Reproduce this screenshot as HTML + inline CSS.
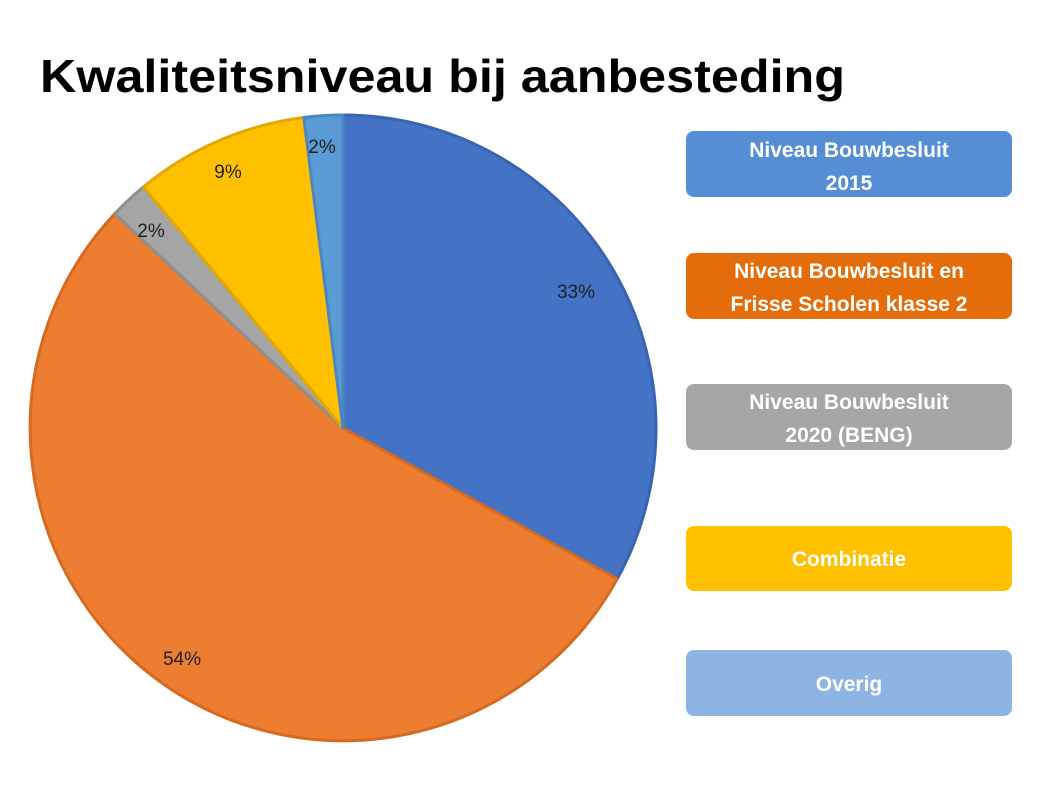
<!DOCTYPE html>
<html><head><meta charset="utf-8"><style>html,body{margin:0;padding:0;background:#fff;}svg{display:block}</style></head>
<body>
<svg width="1050" height="787" viewBox="0 0 1050 787" xmlns="http://www.w3.org/2000/svg" font-family="Liberation Sans, sans-serif">
<rect width="1050" height="787" fill="#fff"/>
<text x="40" y="92" font-size="46" font-weight="bold" fill="#000" textLength="805" lengthAdjust="spacingAndGlyphs">Kwaliteitsniveau bij aanbesteding</text>
<g stroke-width="3" stroke-linejoin="round">
<path d="M343,428 L343,115 A313,313 0 0 1 617.3,578.8 Z" fill="#4472C4" stroke="#3A64B0"/>
<path d="M343,428 L617.3,578.8 A313,313 0 1 1 114.8,213.7 Z" fill="#ED7D31" stroke="#D56A22"/>
<path d="M343,428 L114.8,213.7 A313,313 0 0 1 143.5,186.8 Z" fill="#A5A5A5" stroke="#8F8F8F"/>
<path d="M343,428 L143.5,186.8 A313,313 0 0 1 303.8,117.5 Z" fill="#FFC000" stroke="#E0A800"/>
<path d="M343,428 L303.8,117.5 A313,313 0 0 1 343,115 Z" fill="#5B9BD5" stroke="#4A87C0"/>
</g>
<g font-size="19" fill="#222" text-anchor="middle">
<text x="576" y="298">33%</text>
<text x="182" y="665">54%</text>
<text x="151" y="237">2%</text>
<text x="228" y="178">9%</text>
<text x="322" y="153">2%</text>
</g>
<g>
<rect x="686" y="131" width="326" height="66" rx="8" fill="#558ED5"/>
<rect x="686" y="253" width="326" height="66" rx="8" fill="#E46C0A"/>
<rect x="686" y="384" width="326" height="66" rx="8" fill="#A6A6A6"/>
<rect x="686" y="526" width="326" height="65" rx="8" fill="#FFC000"/>
<rect x="686" y="650" width="326" height="66" rx="8" fill="#8EB4E3"/>
</g>
<g font-size="21" font-weight="bold" fill="#fff" text-anchor="middle">
<text x="849" y="157">Niveau Bouwbesluit</text>
<text x="849" y="190">2015</text>
<text x="849" y="278">Niveau Bouwbesluit en</text>
<text x="849" y="311">Frisse Scholen klasse 2</text>
<text x="849" y="409">Niveau Bouwbesluit</text>
<text x="849" y="442">2020 (BENG)</text>
<text x="849" y="566">Combinatie</text>
<text x="849" y="691">Overig</text>
</g>
</svg>
</body></html>
